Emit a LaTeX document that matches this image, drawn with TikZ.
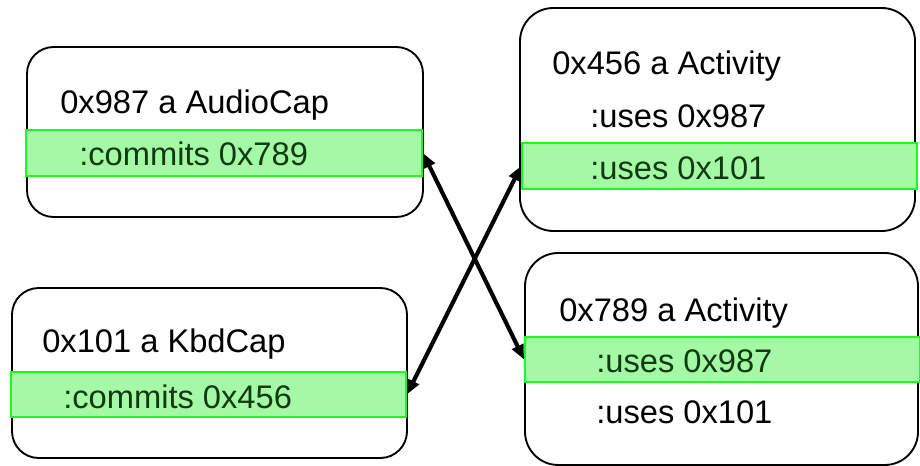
\documentclass[tikz,border=0pt]{standalone}
\usepackage{fontspec}
\setmainfont{Liberation Sans}
\usetikzlibrary{arrows.meta,fit}
\definecolor{bandfill}{RGB}{165,248,165}
\definecolor{bandline}{RGB}{30,250,30}
\definecolor{bandtext}{RGB}{15,60,15}
\begin{document}
\begin{tikzpicture}[x=0.75pt,y=-0.75pt,
  objsmall/.style={draw=black, fill=white, line width=1.4pt, inner sep=0pt, rounded corners=20pt},
  objlarge/.style={draw=black, fill=white, line width=1.4pt, inner sep=0pt, rounded corners=25pt},
  band/.style={draw=bandline, fill=bandfill, line width=1.4pt, inner sep=0pt},
  txt/.style={anchor=base west, inner sep=0pt, font=\fontsize{24.5}{29}\selectfont},
  bandtxt/.style={txt, text=bandtext},
  pointer/.style={line width=3.1pt, {Triangle[length=11pt,width=9pt]}-{Triangle[length=11pt,width=9pt]}}]
\useasboundingbox (0,0) rectangle (920,466);

% object boxes
\node[objsmall, fit={(27,47) (423,217)}] (audio) {};
\node[objsmall, fit={(12,288) (407,458)}] (kbd) {};
\node[objlarge, fit={(520,8) (915,231)}] (act1) {};
\node[objlarge, fit={(525,253) (918,465)}] (act2) {};

% highlighted slots
\node[band, fit={(26,130) (422,176)}] (g1) {};
\node[band, fit={(11,372) (406,417)}] (g2) {};
\node[band, fit={(522,143) (917,189)}] (g3) {};
\node[band, fit={(525,337) (920,382)}] (g4) {};

% AudioCap
\node[txt] (t1) at (60,114) {0x987 a AudioCap};
\node[bandtxt] (t2) at (79,166) {:commits 0x789};
% KbdCap
\node[txt] (t3) at (42,352) {0x101 a KbdCap};
\node[bandtxt] (t4) at (63,408) {:commits 0x456};
% first Activity
\node[txt] (t5) at (552,75) {0x456 a Activity};
\node[txt] (t6) at (590,128) {:uses 0x987};
\node[bandtxt] (t7) at (590,180) {:uses 0x101};
% second Activity
\node[txt] (t8) at (559,321) {0x789 a Activity};
\node[bandtxt] (t9) at (596,372) {:uses 0x987};
\node[txt] (t10) at (596,423) {:uses 0x101};

% references
\draw[pointer] (g1.east) -- (g4.west);
\draw[pointer] (g2.east) -- (g3.west);
\end{tikzpicture}
\end{document}
